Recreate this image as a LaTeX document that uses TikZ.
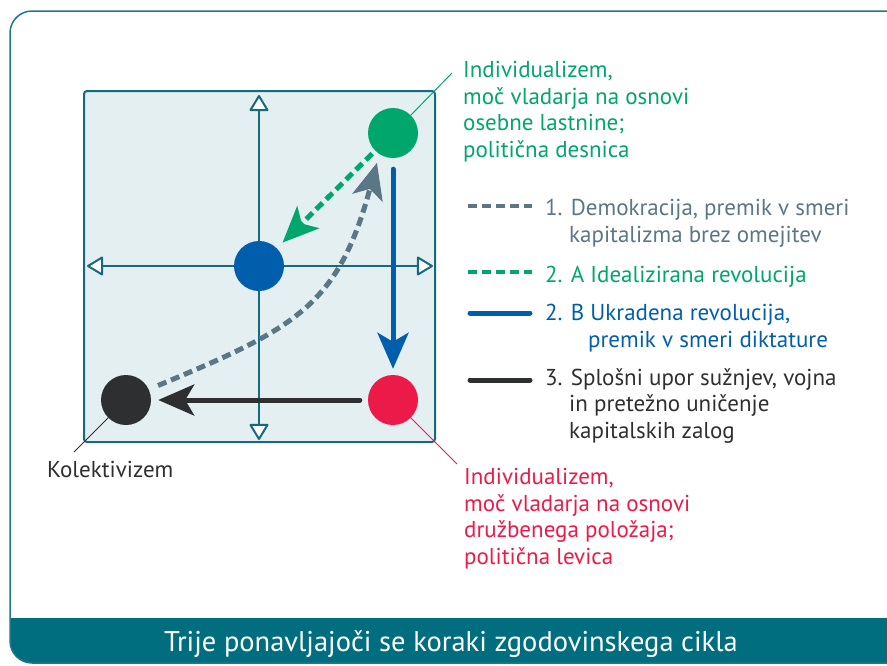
\documentclass[tikz,border=0pt]{standalone}
\usepackage{fontspec}
\setmainfont{PT Sans}
\usetikzlibrary{arrows.meta}
\definecolor{frameteal}{HTML}{1C7A8A}
\definecolor{bandteal}{HTML}{006E7F}
\definecolor{boxfill}{HTML}{E3EFF1}
\definecolor{boxline}{HTML}{17697D}
\definecolor{cgreen}{HTML}{00A66B}
\definecolor{cblue}{HTML}{005EAD}
\definecolor{cblack}{HTML}{2E2F31}
\definecolor{cred}{HTML}{EC1A48}
\definecolor{cgray}{HTML}{5B7684}
\tikzset{
  dot/.style={circle, minimum size=50pt, inner sep=0pt, draw=none},
  axisline/.style={boxline, line width=2pt, line join=round,
     {Triangle[fill=white, length=17pt, width=20pt, line join=round]}-{Triangle[fill=white, length=17pt, width=20pt, line join=round]}},
  bigtip/.style={-{Stealth[length=36pt, width=31pt, inset=9pt]}},
  flow/.style={line width=5pt},
  dashflow/.style={line width=5pt, dash pattern=on 9pt off 5pt},
  leader/.style={line width=1pt},
  lbl/.style={anchor=base west, inner sep=0pt, align=left, font=\fontsize{23}{26.5}\selectfont},
}
\begin{document}
\begin{tikzpicture}[x=1pt, y=-1pt]
\useasboundingbox (0,0) rectangle (887,665);
\begin{scope}
  \clip (0,0) rectangle (887,665);
  \begin{scope}
    \clip[rounded corners=22pt] (10,11) rectangle (910,663);
    \fill[bandteal] (0,618) rectangle (910,670);
  \end{scope}
  \draw[frameteal, line width=1.5pt, rounded corners=22pt] (10,11) rectangle (910,663);
\end{scope}
\node[anchor=base, inner sep=0pt, text=white, font=\fontsize{28.5}{32}\selectfont] (title) at (451,651) {Trije ponavljajoči se koraki zgodovinskega cikla};

% inner box
\draw[boxline, fill=boxfill, line width=2pt, rounded corners=3pt] (84,91) rectangle (435,442);
\coordinate (axT) at (259,95);
\coordinate (axB) at (259,440);
\coordinate (axL) at (87,266);
\coordinate (axR) at (433,266);
\draw[axisline] (axB) -- (axT);
\draw[axisline] (axL) -- (axR);

% circles
\node[dot, fill=cgreen] (g) at (393,133) {};
\node[dot, fill=cblue] (b) at (259,266) {};
\node[dot, fill=cblack] (k) at (126,400) {};
\node[dot, fill=cred] (r) at (393,400) {};

% flows
\draw[cgray, dashflow, bigtip, shorten <=10pt, shorten >=9pt] (k.25) .. controls (294.5,328.5) and (338,307) .. (g.237);
\draw[cgreen, dashflow, bigtip, shorten <=4pt, shorten >=8pt] (g) -- (b);
\draw[cblue, flow, line cap=round, bigtip, shorten <=11pt, shorten >=6pt] (g) -- (r);
\draw[cblack, flow, line cap=round, bigtip, shorten <=8pt, shorten >=7pt] (r) -- (k);

% leaders
\coordinate (gl) at (452,73);
\coordinate (rl) at (457,464);
\coordinate (kl) at (74,452);
\draw[cgreen, leader] (g.45) -- (gl);
\draw[cred, leader] (r.-45) -- (rl);
\draw[cblack, leader] (k.-135) -- (kl);

% labels (base anchor = baseline of last line)
\node[lbl, text=cgreen] (gtext) at (463,157) {Individualizem,\\moč vladarja na osnovi\\osebne lastnine;\\politična desnica};
\node[lbl, text=cred] (rtext) at (464,564) {Individualizem,\\moč vladarja na osnovi\\družbenega položaja;\\politična levica};
\node[lbl, text=cblack] (ktext) at (47,477) {Kolektivizem};

% legend
\draw[cgray, line width=4.5pt, dash pattern=on 9pt off 5pt] (468,206) -- (532,206);
\draw[cgreen, line width=4.5pt, dash pattern=on 9pt off 5pt] (468,272) -- (532,272);
\draw[cblue, line width=5pt, line cap=round] (470,313) -- (530,313);
\draw[cblack, line width=5pt, line cap=round] (470,380) -- (530,380);
\node[lbl, text=cgray] (l1) at (545,242) {1. Demokracija, premik v smeri\\\hspace*{24pt}kapitalizma brez omejitev};
\node[lbl, text=cgreen] (l2) at (545,282) {2. A Idealizirana revolucija};
\node[lbl, text=cblue] (l3) at (545,347) {2. B Ukradena revolucija,\\\hspace*{43pt}premik v smeri diktature};
\node[lbl, text=cblack] (l4) at (545,438) {3. Splošni upor sužnjev, vojna\\\hspace*{24pt}in pretežno uničenje\\\hspace*{24pt}kapitalskih zalog};
\end{tikzpicture}
\end{document}
